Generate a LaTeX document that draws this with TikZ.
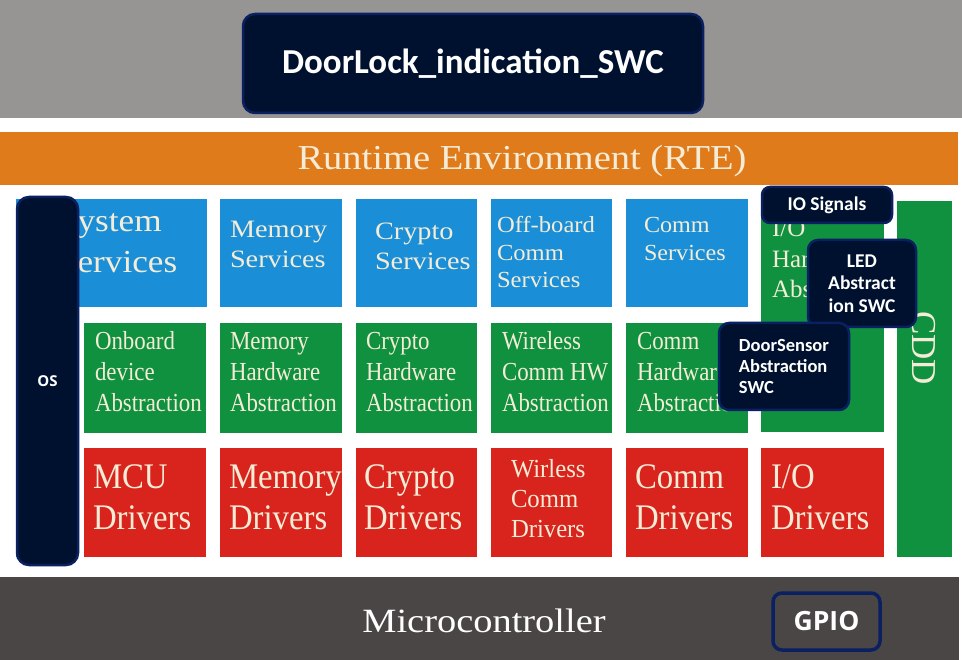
\documentclass[tikz,border=0pt]{standalone}
\usepackage{fontspec}
\usepackage{graphicx}
\setmainfont{Liberation Serif}
\newfontfamily\carl{Carlito}
\newfontfamily\opsans{Open Sans}
\definecolor{topgray}{HTML}{979593}
\definecolor{rteorange}{HTML}{E07B1C}
\definecolor{svcblue}{HTML}{1A8FD8}
\definecolor{abgreen}{HTML}{0F9140}
\definecolor{drvred}{HTML}{D9241E}
\definecolor{mcgray}{HTML}{4A4645}
\definecolor{navyfill}{HTML}{00112F}
\definecolor{navyline}{HTML}{0B2060}
\definecolor{cream}{HTML}{F4ECD6}
\newcommand\cl[4]{\scalebox{#1}[1]{\fontsize{#2}{#3}\selectfont\begin{tabular}[t]{@{}l@{}}#4\end{tabular}}}
\begin{document}
\begin{tikzpicture}[x=1pt,y=-1pt,
  blk/.style={rectangle, draw=none, inner sep=0pt, outer sep=0pt},
  navy/.style={rectangle, rounded corners=12pt, fill=navyfill, draw=navyline, line width=2.5pt, text=white, inner sep=0pt},
  ser/.style={inner sep=0pt, outer sep=0pt, anchor=base west, text=cream}]
\useasboundingbox (0,0) rectangle (962,660);
\fill[white] (0,0) rectangle (962,660);

% application layer
\node[blk, fill=topgray, minimum width=962pt, minimum height=118pt] (appl) at (481,59) {};
\node[navy, minimum width=460pt, minimum height=99pt, font=\carl\bfseries\fontsize{35}{40}\selectfont] (swc) at (473,63.5) {DoorLock\_indication\_SWC};

% RTE
\node[blk, fill=rteorange, minimum width=958pt, minimum height=53pt] (rte) at (479,158.5) {};
\node[inner sep=0pt, text=cream, anchor=base] (rtet) at (522,170) {\scalebox{1.1}[1]{\fontsize{35}{40}\selectfont Runtime Environment (RTE)}};

% services row
\node[blk, fill=svcblue, minimum width=62pt, minimum height=358pt] (sysbg) at (47,378) {};
\node[blk, fill=svcblue, minimum width=191pt, minimum height=108pt] (sys) at (111.5,253) {};
\node[blk, fill=svcblue, minimum width=122pt, minimum height=108pt] (mems) at (281,253) {};
\node[blk, fill=svcblue, minimum width=121pt, minimum height=108pt] (crys) at (416.5,253) {};
\node[blk, fill=svcblue, minimum width=121pt, minimum height=108pt] (offs) at (551.5,253) {};
\node[blk, fill=svcblue, minimum width=122pt, minimum height=108pt] (coms) at (687,253) {};
\node[blk, fill=abgreen, minimum width=123pt, minimum height=233pt] (iohw) at (822.5,315.5) {};
\node[blk, fill=abgreen, minimum width=55pt, minimum height=356pt] (cdd) at (924.5,379) {};

% abstraction row
\node[blk, fill=abgreen, minimum width=122pt, minimum height=110pt] (onb) at (145,378) {};
\node[blk, fill=abgreen, minimum width=122pt, minimum height=110pt] (memh) at (281,378) {};
\node[blk, fill=abgreen, minimum width=121pt, minimum height=110pt] (cryh) at (416.5,378) {};
\node[blk, fill=abgreen, minimum width=121pt, minimum height=110pt] (wirh) at (551.5,378) {};
\node[blk, fill=abgreen, minimum width=122pt, minimum height=110pt] (comh) at (687,378) {};

% driver row
\node[blk, fill=drvred, minimum width=122pt, minimum height=109pt] (mcu) at (145,502.5) {};
\node[blk, fill=drvred, minimum width=122pt, minimum height=109pt] (memd) at (281,502.5) {};
\node[blk, fill=drvred, minimum width=121pt, minimum height=109pt] (cryd) at (416.5,502.5) {};
\node[blk, fill=drvred, minimum width=121pt, minimum height=109pt] (wird) at (551.5,502.5) {};
\node[blk, fill=drvred, minimum width=122pt, minimum height=109pt] (comd) at (687,502.5) {};
\node[blk, fill=drvred, minimum width=123pt, minimum height=109pt] (iod) at (822.5,502.5) {};

% microcontroller
\node[blk, fill=mcgray, minimum width=959pt, minimum height=83pt] (mc) at (479.5,618.5) {};

% texts of the layers
\node[ser] (syst) at (58,232) {\cl{1.1}{32}{41}{System\\Services}};
\node[ser] (memst) at (230,238) {\cl{1.13}{25}{30}{Memory\\Services}};
\node[ser] (cryst) at (375,240) {\cl{1.13}{25}{30}{Crypto\\Services}};
\node[ser] (offst) at (497,233) {\cl{1.07}{23}{27.5}{Off-board\\Comm\\Services}};
\node[ser] (comst) at (644,233) {\cl{1.05}{23}{28}{Comm\\Services}};
\node[ser] (iohwt) at (772,237) {\cl{1.0}{25}{30.5}{I/O\\Har\\Abs}};

\node[ser] (onbt) at (95,350) {\cl{0.88}{26}{31}{Onboard\\device\\Abstraction}};
\node[ser] (memht) at (230,350) {\cl{0.88}{26}{31}{Memory\\Hardware\\Abstraction}};
\node[ser] (cryht) at (366,350) {\cl{0.88}{26}{31}{Crypto\\Hardware\\Abstraction}};
\node[ser] (wirht) at (502,350) {\cl{0.88}{26}{31}{Wireless\\Comm HW\\Abstraction}};
\node[ser] (comht) at (637,350) {\cl{0.88}{26}{31}{Comm\\Hardware\\Abstraction}};

\node[ser] (mcut) at (93,489) {\cl{0.91}{36}{41}{MCU\\Drivers}};
\node[ser] (memdt) at (229,489) {\cl{0.91}{36}{41}{Memory\\Drivers}};
\node[ser] (crydt) at (364,489) {\cl{0.91}{36}{41}{Crypto\\Drivers}};
\node[ser] (wirdt) at (511,477) {\cl{0.95}{26}{30.5}{Wirless\\Comm\\Drivers}};
\node[ser] (comdt) at (635,489) {\cl{0.91}{36}{41}{Comm\\Drivers}};
\node[ser] (iodt) at (771,489) {\cl{0.91}{36}{41}{I/O\\Drivers}};

\node[inner sep=0pt, text=cream, rotate=-90] (cddt) at (924,348) {\fontsize{35}{40}\selectfont CDD};
\node[inner sep=0pt, text=white, anchor=base] (mct) at (484,632) {\scalebox{1.13}[1]{\fontsize{34}{40}\selectfont Microcontroller}};

% overlay boxes
\node[navy, rounded corners=12pt, minimum width=61pt, minimum height=368pt, font=\opsans\bfseries\fontsize{15}{18}\selectfont] (os) at (47.5,381) {OS};
\node[navy, rounded corners=8pt, minimum width=130pt, minimum height=36pt, font=\carl\bfseries\fontsize{19.5}{22}\selectfont] (iosig) at (827,205) {IO Signals};
\node[navy, rounded corners=10pt, minimum width=108pt, minimum height=87pt, align=center, font=\carl\bfseries\fontsize{19.5}{22.5}\selectfont] (led) at (862,283.5) {LED\\Abstract\\ion SWC};
\node[navy, rounded corners=10pt, minimum width=130pt, minimum height=87pt, align=left, font=\carl\bfseries\fontsize{18.5}{21}\selectfont] (door) at (784,366.5) {DoorSensor\\Abstraction\\SWC};
\node[rectangle, rounded corners=9pt, fill=mcgray, draw=navyline, line width=3.5pt, text=white, inner sep=0pt, minimum width=107pt, minimum height=57pt, font=\opsans\bfseries\fontsize{26.5}{30}\selectfont] (gpio) at (826.5,621.5) {GPIO};
\end{tikzpicture}
\end{document}
